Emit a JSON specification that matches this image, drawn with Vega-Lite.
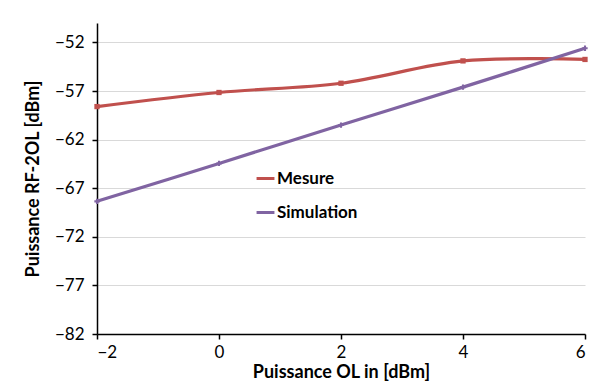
{
  "$schema": "https://vega.github.io/schema/vega-lite/v6.json",
  "width": 488,
  "height": 311,
  "autosize": {"type": "none"},
  "padding": {"left": 97, "top": 23, "right": 8, "bottom": 48},
  "background": "white",
  "config": {
    "font": "Lato",
    "view": {"stroke": null},
    "axis": {"labelFont": "Lato", "titleFont": "Lato"}
  },
  "data": {
    "values": [
      {"x": -2, "y": -58.6, "s": "Mesure"},
      {"x": 0, "y": -57.15, "s": "Mesure"},
      {"x": 2, "y": -56.2, "s": "Mesure"},
      {"x": 4, "y": -53.9, "s": "Mesure"},
      {"x": 6, "y": -53.75, "s": "Mesure"},
      {"x": -2, "y": -68.35, "s": "Simulation"},
      {"x": 0, "y": -64.45, "s": "Simulation"},
      {"x": 2, "y": -60.5, "s": "Simulation"},
      {"x": 4, "y": -56.6, "s": "Simulation"},
      {"x": 6, "y": -52.6, "s": "Simulation"}
    ]
  },
  "encoding": {
    "x": {
      "field": "x", "type": "quantitative",
      "scale": {"domain": [-2, 6], "nice": false, "zero": false},
      "axis": {
        "values": [-2, 0, 2, 4, 6], "grid": false,
        "title": "Puissance OL in [dBm]", "titleFontSize": 18, "titleFontWeight": "bold",
        "titleColor": "black", "titlePadding": 3,
        "labelFontSize": 17, "labelColor": "black", "labelPadding": 5,
        "domainColor": "black", "domainWidth": 1.5, "tickColor": "black", "tickWidth": 1.5, "tickSize": 5
      }
    },
    "y": {
      "field": "y", "type": "quantitative",
      "scale": {"domain": [-82, -50], "nice": false, "zero": false},
      "axis": {
        "values": [-82, -77, -72, -67, -62, -57, -52],
        "title": "Puissance RF-2OL [dBm]", "titleFontSize": 18, "titleFontWeight": "bold",
        "titleColor": "black", "titlePadding": 12,
        "labelFontSize": 17, "labelColor": "black", "labelPadding": 8,
        "gridColor": "#d9d9d9", "gridWidth": 1,
        "domainColor": "black", "domainWidth": 1.5, "tickColor": "black", "tickWidth": 1.5, "tickSize": 5
      }
    }
  },
  "layer": [
    {
      "mark": {"type": "line", "strokeWidth": 3.2, "interpolate": "catmull-rom"},
      "encoding": {
        "color": {
          "field": "s", "type": "nominal",
          "scale": {"domain": ["Mesure", "Simulation"], "range": ["#C0504D", "#8064A2"]},
          "legend": {
            "title": null, "orient": "none", "legendX": 158, "legendY": 145,
            "symbolType": "stroke", "symbolStrokeWidth": 3, "symbolSize": 320,
            "labelFontSize": 17, "labelFontWeight": "bold", "labelColor": "black",
            "rowPadding": 15, "labelOffset": 1
          }
        }
      }
    },
    {
      "transform": [{"filter": "datum.s == 'Mesure'"}],
      "mark": {"type": "point", "shape": "square", "filled": true, "size": 28, "opacity": 1, "color": "#C0504D"}
    },
    {
      "transform": [{"filter": "datum.s == 'Simulation'"}],
      "mark": {"type": "point", "shape": "cross", "filled": true, "size": 28, "opacity": 1, "color": "#8064A2"}
    }
  ]
}
